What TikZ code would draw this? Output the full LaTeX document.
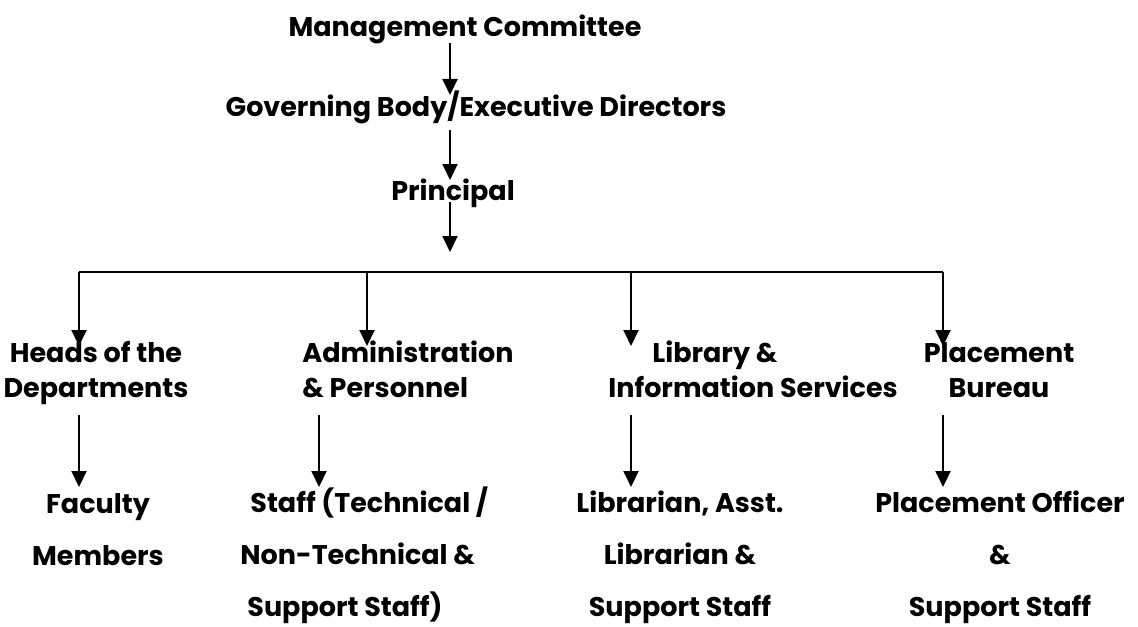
\documentclass[tikz,border=0pt]{standalone}
\usepackage{fontspec}
\setmainfont{Poppins}
\usetikzlibrary{arrows.meta}
\tikzset{
  box/.style={font=\bfseries\fontsize{13.5}{17.5}\selectfont,inner sep=0pt},
  lowbox/.style={font=\bfseries\fontsize{13.5}{26}\selectfont,inner sep=0pt},
  arr/.style={line width=1pt,-{Triangle[length=8pt,width=7.5pt]}},
  bus/.style={line width=1pt}
}
\begin{document}
\begin{tikzpicture}[x=0.5pt,y=-0.5pt]
\useasboundingbox (0,0) rectangle (1138,626);

\node[box,anchor=base] (mgmt) at (465,37) {Management Committee};
\node[box,anchor=base] (gov) at (476,117) {Governing Body/Executive Directors};
\node[box,anchor=base] (princ) at (453,200) {Principal};

\coordinate (a1s) at (450,43);  \coordinate (a1e) at (450,95);
\coordinate (a2s) at (450,130); \coordinate (a2e) at (450,180);
\coordinate (a3s) at (450,202); \coordinate (a3e) at (450,252);
\draw[arr] (a1s) -- (a1e);
\draw[arr] (a2s) -- (a2e);
\draw[arr] (a3s) -- (a3e);

% second level (base = last line)
\node[box,anchor=base,align=center] (heads) at (96,397) {Heads of the\\Departments};
\node[box,anchor=base west,align=left] (admin) at (302,397) {Administration\\\& Personnel};
\node[box,anchor=base west,align=left] (lib) at (608,397) {\hspace*{22pt}Library \&\\Information Services};
\node[box,anchor=base,align=center] (place) at (999,397) {Placement\\Bureau};

\coordinate (b1) at (79,272);  \coordinate (b2) at (367,272);
\coordinate (b3) at (631,272); \coordinate (b4) at (943,272);
\draw[bus] (b1) -- (b4);
\foreach \b in {b1,b2,b3,b4}
  \draw[arr] (\b) -- ++(0,74);

% third level
\node[lowbox,anchor=base,align=center] (faculty) at (98,565) {Faculty\\Members};
\node[lowbox,anchor=base west,align=left] (staff) at (240,616) {\hspace*{5pt}Staff (Technical /\\Non-Technical \&\\\hspace*{3.5pt}Support Staff)};
\node[lowbox,anchor=base,align=center] (libstaff) at (680,616) {Librarian, Asst.\\Librarian \&\\Support Staff};
\node[lowbox,anchor=base,align=center] (placestaff) at (1000,616) {Placement Officer\\\&\\Support Staff};

\foreach \x/\n in {79/c1,319/c2,631/c3,943/c4}{
  \coordinate (\n) at (\x,415);
  \draw[arr] (\n) -- ++(0,72);
}
\end{tikzpicture}
\end{document}
